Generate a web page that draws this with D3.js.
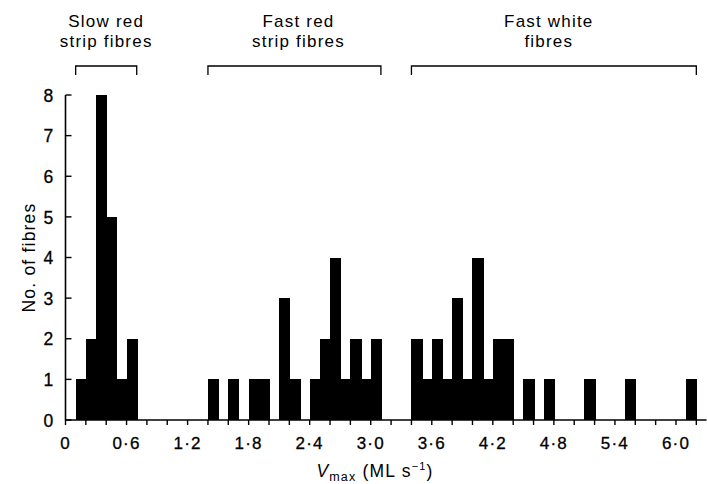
<!DOCTYPE html>
<html>
<head>
<meta charset="utf-8">
<script src="https://cdn.jsdelivr.net/npm/d3@7"></script>
<style>
  body { margin: 0; background: #fff; }
  svg { display: block; font-family: "Liberation Sans", Arial, Helvetica, sans-serif; }
  text { letter-spacing: 1.2px; }
</style>
</head>
<body>
<svg></svg>
<script>
// histogram of Vmax for three fibre types
const width = 707;
const height = 484;

// bin starts (ML s-1), each bin is 0.1 wide
const binWidth = 0.1;
const slowBins = [0.1, 0.2, 0.3, 0.4, 0.5, 0.6];
const slowCounts = [1, 2, 8, 5, 1, 2];
const fastRedBins = [1.4, 1.6, 1.8, 1.9, 2.1, 2.2, 2.4, 2.5, 2.6, 2.7, 2.8, 2.9, 3.0];
const fastRedCounts = [1, 1, 1, 1, 3, 1, 1, 2, 4, 1, 2, 1, 2];
const fastWhiteBins = [3.4, 3.5, 3.6, 3.7, 3.8, 3.9, 4.0, 4.1, 4.2, 4.3, 4.5, 4.7, 5.1, 5.5, 6.1];
const fastWhiteCounts = [2, 1, 2, 1, 3, 1, 4, 1, 2, 2, 1, 1, 1, 1, 1];

// group brackets along the top
const groupNames = [["Slow red", "strip fibres"], ["Fast red", "strip fibres"], ["Fast white", "fibres"]];
const groupStart = [0.1, 1.4, 3.4];
const groupEnd = [0.7, 3.1, 6.2];
const groupLabelAt = [0.4, 2.29, 4.75];

const xTicks = [0, 0.6, 1.2, 1.8, 2.4, 3.0, 3.6, 4.2, 4.8, 5.4, 6.0];
const xMinorTicks = d3.range(0, 32).map(i => i * 0.2);
const yTicks = [0, 1, 2, 3, 4, 5, 6, 7, 8];

const svg = d3.select("svg")
  .attr("width", width)
  .attr("height", height);

const x = d3.scaleLinear().domain([0, 6.3]).range([65.5, 706.5]);
const y = d3.scaleLinear().domain([0, 8]).range([420, 95]);

const bars = [];
[[slowBins, slowCounts], [fastRedBins, fastRedCounts], [fastWhiteBins, fastWhiteCounts]].forEach(([bins, counts]) => {
  bins.forEach((b, i) => bars.push({ x0: b, n: counts[i] }));
});

// bars, a pixel of overlap so touching bars fuse without seams
svg.append("g")
  .attr("shape-rendering", "crispEdges")
  .selectAll("rect")
  .data(bars)
  .enter().append("rect")
  .attr("x", d => x(d.x0))
  .attr("y", d => y(d.n))
  .attr("width", d => x(d.x0 + binWidth) - x(d.x0) + 1)
  .attr("height", d => y(0) - y(d.n))
  .attr("fill", "#000");

const fmt = d => d === 0 ? "0" : d3.format(".1f")(d).replace(".", "\u00b7");

// x axis
const xAxis = svg.append("g")
  .attr("transform", `translate(0, ${y(0)})`);
xAxis.append("line")
  .attr("x1", x(0)).attr("x2", x(6.3))
  .attr("stroke", "#000").attr("stroke-width", 1.6);
xAxis.selectAll(".minor")
  .data(xMinorTicks)
  .enter().append("line")
  .attr("x1", d => x(d)).attr("x2", d => x(d))
  .attr("y1", 0).attr("y2", 5)
  .attr("stroke", "#000").attr("stroke-width", 1.4);
xAxis.selectAll("text")
  .data(xTicks)
  .enter().append("text")
  .attr("x", d => x(d))
  .attr("y", 29)
  .attr("text-anchor", "middle")
  .attr("font-size", "17px")
  .attr("stroke", "#000")
  .attr("stroke-width", 0.3)
  .text(fmt);

// y axis, ticks point inward
const yAxis = svg.append("g")
  .attr("transform", `translate(${x(0)}, 0)`);
yAxis.append("line")
  .attr("y1", y(0)).attr("y2", y(8))
  .attr("stroke", "#000").attr("stroke-width", 1.6);
yAxis.selectAll(".tick")
  .data(yTicks)
  .enter().append("line")
  .attr("x1", 0).attr("x2", 6)
  .attr("y1", d => y(d)).attr("y2", d => y(d))
  .attr("stroke", "#000").attr("stroke-width", 1.4);
yAxis.selectAll("text")
  .data(yTicks)
  .enter().append("text")
  .attr("x", -11)
  .attr("y", d => y(d))
  .attr("dy", "0.38em")
  .attr("text-anchor", "end")
  .attr("font-size", "17.5px")
  .attr("stroke", "#000")
  .attr("stroke-width", 0.3)
  .text(d => d);

// axis labels
svg.append("text")
  .attr("transform", `translate(35, ${y(4)}) rotate(-90)`)
  .attr("text-anchor", "middle")
  .attr("font-size", "17.5px")
  .attr("letter-spacing", "1.8px")
  .text("No. of fibres");

const xl = svg.append("text")
  .attr("x", 375)
  .attr("y", 477)
  .attr("text-anchor", "middle")
  .attr("font-size", "17.5px");
xl.append("tspan").attr("font-style", "italic").text("V");
xl.append("tspan").attr("font-size", "12.5px").attr("dy", 4).text("max");
xl.append("tspan").attr("dy", -4).text(" (ML s");
xl.append("tspan").attr("font-size", "11px").attr("dy", -7).text("\u22121");
xl.append("tspan").attr("dy", 7).text(")");

// group brackets and labels
const groups = svg.append("g");
groupNames.forEach((name, i) => {
  const x1 = x(groupStart[i]), x2 = x(groupEnd[i]);
  groups.append("path")
    .attr("d", `M${x1},75V66H${x2}V75`)
    .attr("fill", "none")
    .attr("stroke", "#000")
    .attr("stroke-width", 1.3);
  name.forEach((line, j) => {
    groups.append("text")
      .attr("x", x(groupLabelAt[i]))
      .attr("y", 27 + j * 20)
      .attr("text-anchor", "middle")
      .attr("font-size", "17px")
      .text(line);
  });
});
</script>
</body>
</html>
